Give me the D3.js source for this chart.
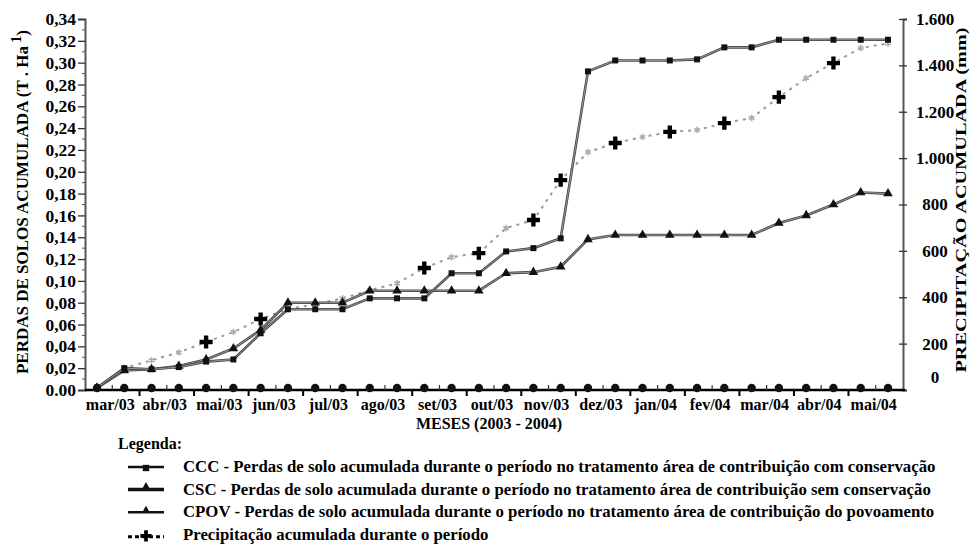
<!DOCTYPE html>
<html><head><meta charset="utf-8">
<script src="https://cdn.jsdelivr.net/npm/d3@7"></script>
<style>
body{margin:0;background:#fff}
svg text{font-family:"Liberation Serif","DejaVu Serif",serif !important;font-weight:bold;fill:#000}
</style></head>
<body><svg id="c" width="970" height="552" font-family="Liberation Serif"></svg>
<script>
// ---------- DATA ----------
const months = ["mar/03","abr/03","mai/03","jun/03","jul/03","ago/03","set/03","out/03","nov/03","dez/03","jan/04","fev/04","mar/04","abr/04","mai/04"];
const periods = ["mar/03-a","mar/03-b","abr/03-a","abr/03-b","mai/03-a","mai/03-b","jun/03-a","jun/03-b","jul/03-a","jul/03-b",
  "ago/03-a","ago/03-b","set/03-a","set/03-b","out/03-a","out/03-b","nov/03-a","nov/03-b","dez/03-a","dez/03-b",
  "jan/04-a","jan/04-b","fev/04-a","fev/04-b","mar/04-a","mar/04-b","abr/04-a","abr/04-b","mai/04-a","mai/04-b"];
const ccc  = [0.002,0.020,0.019,0.021,0.026,0.028,0.052,0.074,0.074,0.074,0.084,0.084,0.084,0.107,0.107,0.127,0.130,0.139,0.292,0.302,0.302,0.302,0.303,0.314,0.314,0.321,0.321,0.321,0.321,0.321];
const csc  = [0.002,0.018,0.019,0.022,0.028,0.038,0.055,0.080,0.080,0.080,0.091,0.091,0.091,0.091,0.091,0.107,0.108,0.113,0.138,0.142,0.142,0.142,0.142,0.142,0.142,0.153,0.160,0.170,0.181,0.180];
const cpov = [0,0,0,0,0,0,0,0,0,0,0,0,0,0,0,0,0,0,0,0,0,0,0,0,0,0,0,0,0,0];
const precip = [10,95,128,162,207,250,306,350,370,395,430,460,526,573,590,698,733,905,1026,1065,1091,1113,1121,1151,1173,1263,1345,1410,1475,1495];
const precipCrossPeriods = ["mai/03-a","jun/03-a","set/03-a","out/03-a","nov/03-a","nov/03-b","dez/03-b","jan/04-b","fev/04-b","mar/04-b","abr/04-b"];
const leftTicks = [0,0.02,0.04,0.06,0.08,0.10,0.12,0.14,0.16,0.18,0.20,0.22,0.24,0.26,0.28,0.30,0.32,0.34];
const leftTickLabels = ["0.00","0,02","0,04","0,06","0,08","0,10","0,12","0,14","0,16","0,18","0,20","0,22","0,24","0,26","0,28","0,30","0,32","0,34"];
const rightTicks = [0,200,400,600,800,1000,1200,1400,1600];
const rightTickLabels = ["0","200","400","600","800","1.000","1.200","1.400","1.600"];
const legendItems = [
  {key:"CCC", label:"CCC - Perdas de solo acumulada durante o período no tratamento área de contribuição com conservação"},
  {key:"CSC", label:"CSC - Perdas de solo acumulada durante o período no tratamento área de contribuição sem conservação"},
  {key:"CPOV", label:"CPOV - Perdas de solo acumulada durante o período no tratamento área de contribuição do povoamento"},
  {key:"PREC", label:"Precipitação acumulada durante o período"}
];

// ---------- LAYOUT ----------
const svg = d3.select("#c");
const L = 85, R = 903, T = 19, B = 390;
const xBand = d3.scaleBand(months, [L, R]);
const x = d3.scalePoint(periods, [97, 888]);
const yL = d3.scaleLinear([0, 0.34], [B, T]);
const yR = d3.scaleLinear([0, 1600], [B, T]);

// left axis
const gL = svg.append("g").attr("transform", `translate(${L},0)`)
  .call(d3.axisLeft(yL).tickValues(leftTicks).tickSize(7).tickPadding(2)
    .tickFormat((d,i)=>leftTickLabels[i]));
gL.attr("font-family",null);
gL.select(".domain").attr("stroke","#555").attr("stroke-width",2);
gL.selectAll(".tick line").attr("stroke","#333").attr("stroke-width",1.3);
gL.selectAll("text").style("font-size","17.5px");
svg.append("g").selectAll("line").data(d3.range(0.01,0.34,0.02)).join("line")
  .attr("x1",L-3).attr("x2",L).attr("y1",d=>yL(d)).attr("y2",d=>yL(d)).attr("stroke","#555");

// right axis
const gR = svg.append("g").attr("transform", `translate(${R},0)`)
  .call(d3.axisRight(yR).tickValues(rightTicks).tickSize(4).tickPadding(0)
    .tickFormat((d,i)=>rightTickLabels[i]));
gR.attr("font-family",null);
gR.select(".domain").attr("stroke","#555").attr("stroke-width",2);
gR.selectAll(".tick line").attr("x1",-4).attr("stroke","#333").attr("stroke-width",1.3);
gR.selectAll("text").style("font-size","17px").attr("text-anchor","middle").attr("x",32)
  .attr("dy",(d)=> d===0 ? "-0.45em" : "0.32em");

// x axis
const gX = svg.append("g").attr("transform", `translate(0,${B})`)
  .call(d3.axisBottom(xBand).tickSize(0).tickPadding(9));
gX.attr("font-family",null);
gX.select(".domain").attr("stroke","#000").attr("stroke-width",2.5).attr("d",`M${L},0H${R+2}`);
gX.selectAll("text").style("font-size","16px").attr("dx",-2);
svg.append("g").selectAll("line").data(months.slice(1)).join("line")
  .attr("x1",d=>xBand(d)).attr("x2",d=>xBand(d)).attr("y1",B).attr("y2",B+6)
  .attr("stroke","#000").attr("stroke-width",2);
svg.append("g").selectAll("line").data(months).join("line")
  .attr("x1",d=>xBand(d)+xBand.bandwidth()/2).attr("x2",d=>xBand(d)+xBand.bandwidth()/2)
  .attr("y1",B).attr("y2",B-5).attr("stroke","#333").attr("stroke-width",1.2);

// titles
svg.append("text").attr("transform",`translate(28,202) rotate(-90)`).attr("text-anchor","middle")
  .style("font-size","17px")
  .call(t=>{t.append("tspan").text("PERDAS DE SOLOS ACUMULADA (T . Ha");
            t.append("tspan").attr("dy","-7").style("font-size","14px").text(" 1");
            t.append("tspan").attr("dy","7").text(")");});
svg.append("text").attr("transform",`translate(966,200) rotate(-90)`).attr("text-anchor","middle")
  .style("font-size","15px").attr("textLength",345).attr("lengthAdjust","spacingAndGlyphs")
  .text("PRECIPITAÇÃO ACUMULADA (mm)");
svg.append("text").attr("x",489).attr("y",429).attr("text-anchor","middle").style("font-size","16px")
  .text("MESES (2003 - 2004)");

// ---------- SERIES ----------
const plot = svg.append("g");
const lineL = vals => d3.line().x((d,i)=>x(periods[i])).y(d=>yL(d))(vals);
const lineR = vals => d3.line().x((d,i)=>x(periods[i])).y(d=>yR(d))(vals);

plot.append("path").attr("d",lineR(precip)).attr("fill","none").attr("stroke","#9a9a9a")
  .attr("stroke-width",2).attr("stroke-dasharray","3,5");
plot.append("g").selectAll("path").data(precip.map((v,i)=>({v,p:periods[i]})).filter(d=>!precipCrossPeriods.includes(d.p)))
  .join("path").attr("transform",d=>`translate(${x(d.p)},${yR(d.v)})`)
  .attr("d",d3.symbol(d3.symbolAsterisk,30)).attr("fill","none").attr("stroke","#aaa").attr("stroke-width",1.5);
plot.append("g").selectAll("path").data(precip.map((v,i)=>({v,p:periods[i]})).filter(d=>precipCrossPeriods.includes(d.p)))
  .join("path").attr("transform",d=>`translate(${x(d.p)},${yR(d.v)})`)
  .attr("d",d3.symbol(d3.symbolCross,95)).attr("fill","#000");

function series(vals, shape, size){
  plot.append("path").attr("d",lineL(vals)).attr("fill","none").attr("stroke","#444").attr("stroke-width",2.6);
  plot.append("path").attr("d",lineL(vals)).attr("fill","none").attr("stroke","#bbb").attr("stroke-width",0.7);
  plot.append("g").selectAll("path").data(vals).join("path")
    .attr("transform",(d,i)=>`translate(${x(periods[i])},${yL(d)})`)
    .attr("d",d3.symbol(shape,size)).attr("fill","#111");
}
series(csc, d3.symbolTriangle, 40);
series(ccc, d3.symbolSquare, 36);
plot.append("g").selectAll("path").data(cpov).join("path")
  .attr("transform",(d,i)=>`translate(${x(periods[i])},${yL(d)-2})`)
  .attr("d",d3.symbol(d3.symbolCircle,55)).attr("fill","#111");

// ---------- LEGEND ----------
svg.append("text").attr("x",118).attr("y",449).style("font-size","16px").text("Legenda:");
const lg = svg.append("g");
legendItems.forEach((it,i)=>{
  const cy = 467 + i*22.6;
  const g = lg.append("g");
  if(it.key==="PREC"){
    g.append("line").attr("x1",128).attr("x2",164).attr("y1",cy+2).attr("y2",cy+2)
      .attr("stroke","#000").attr("stroke-width",3).attr("stroke-dasharray","4,3");
    g.append("path").attr("transform",`translate(146,${cy+1})`).attr("d",d3.symbol(d3.symbolCross,70)).attr("fill","#000");
  } else {
    g.append("line").attr("x1",128).attr("x2",164).attr("y1",cy).attr("y2",cy)
      .attr("stroke","#111").attr("stroke-width",it.key==="CSC"?3.5:2.5);
    const sh = it.key==="CCC"?d3.symbolSquare: d3.symbolTriangle;
    g.append("path").attr("transform",`translate(146,${cy+ (it.key==="CCC"?1:-2)})`).attr("d",d3.symbol(sh,it.key==="CPOV"?25:40)).attr("fill","#111");
  }
  g.append("text").attr("x",183).attr("y",cy+5).style("font-size","16.8px").text(it.label);
});
</script></body></html>
